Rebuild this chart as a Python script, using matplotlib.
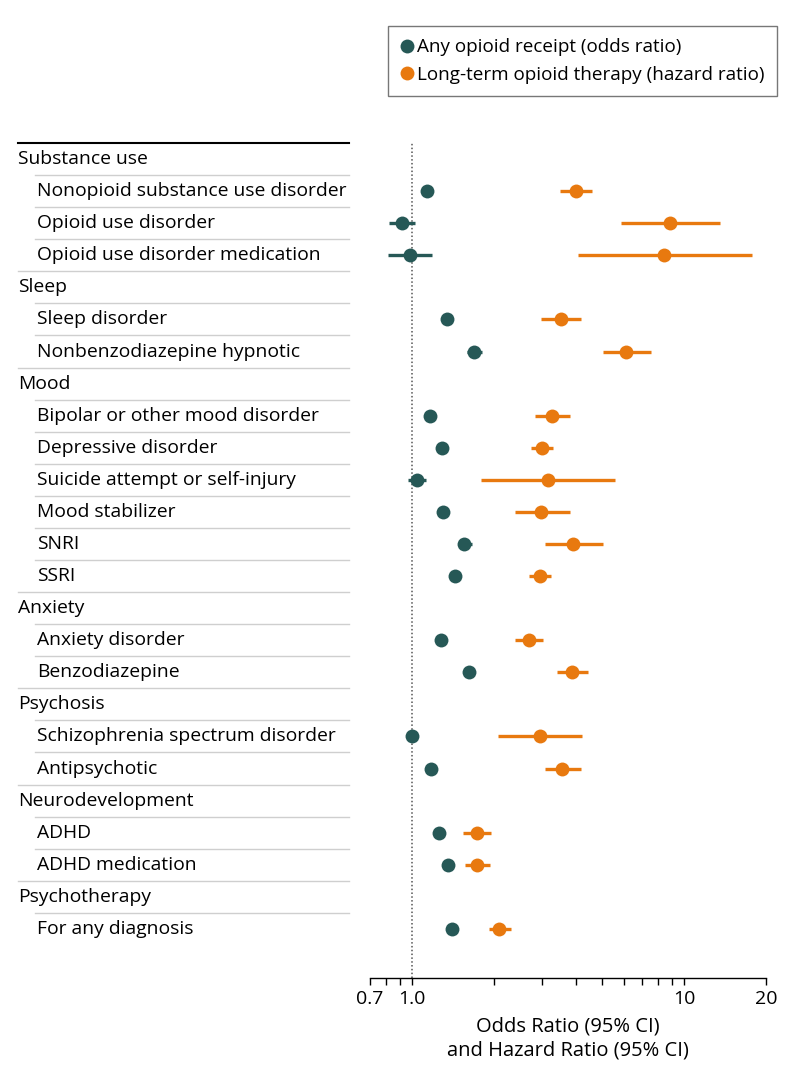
import numpy as np
import matplotlib
matplotlib.use("Agg")
import matplotlib.pyplot as plt
from matplotlib.lines import Line2D
from matplotlib.transforms import blended_transform_factory
from matplotlib.ticker import NullFormatter

plt.rcParams['font.family'] = ['Open Sans', 'DejaVu Sans']

labels = ["Substance use", "Nonopioid substance use disorder", "Opioid use disorder",
          "Opioid use disorder medication", "Sleep", "Sleep disorder",
          "Nonbenzodiazepine hypnotic", "Mood", "Bipolar or other mood disorder",
          "Depressive disorder", "Suicide attempt or self-injury", "Mood stabilizer",
          "SNRI", "SSRI", "Anxiety", "Anxiety disorder", "Benzodiazepine", "Psychosis",
          "Schizophrenia spectrum disorder", "Antipsychotic", "Neurodevelopment",
          "ADHD", "ADHD medication", "Psychotherapy", "For any diagnosis"]
is_header = [1, 0, 0, 0, 1, 0, 0, 1, 0, 0, 0, 0, 0, 0, 1, 0, 0, 1, 0, 0, 1, 0, 0, 1, 0]

nan = np.nan
# any opioid receipt, odds ratio
or_est = [nan, 1.135, 0.917, 0.983, nan, 1.348, 1.694, nan, 1.165, 1.286, 1.04, 1.297,
          1.557, 1.439, nan, 1.275, 1.625, nan, 0.997, 1.175, nan, 1.26, 1.353, nan, 1.407]
or_lo = [nan, 1.11, 0.823, 0.814, nan, 1.32, 1.597, nan, 1.14, 1.27, 0.964, 1.27,
         1.476, 1.42, nan, 1.26, 1.59, nan, 0.96, 1.15, nan, 1.24, 1.32, nan, 1.39]
or_hi = [nan, 1.16, 1.026, 1.188, nan, 1.37, 1.803, nan, 1.19, 1.30, 1.123, 1.32,
         1.662, 1.46, nan, 1.29, 1.66, nan, 1.03, 1.20, nan, 1.28, 1.38, nan, 1.43]
# long-term opioid therapy, hazard ratio
hr_est = [nan, 4.01, 8.89, 8.42, nan, 3.52, 6.12, nan, 3.26, 3.00, 3.15, 2.98,
          3.91, 2.94, nan, 2.69, 3.87, nan, 2.95, 3.57, nan, 1.73, 1.738, nan, 2.093]
hr_lo = [nan, 3.50, 5.86, 4.06, nan, 2.98, 5.02, nan, 2.82, 2.74, 1.79, 2.38,
         3.08, 2.68, nan, 2.39, 3.41, nan, 2.07, 3.08, nan, 1.544, 1.566, nan, 1.924]
hr_hi = [nan, 4.60, 13.5, 17.7, nan, 4.18, 7.54, nan, 3.81, 3.30, 5.57, 3.81,
         5.03, 3.23, nan, 3.03, 4.42, nan, 4.23, 4.17, nan, 1.947, 1.935, nan, 2.306]

teal = "#265856"
orange = "#E8790F"

W, H = 794, 1091
fig = plt.figure(figsize=(W / 100, H / 100), dpi=100)
ax = fig.add_axes([370 / W, 1 - 978 / H, 396 / W, (978 - 143) / H])

y = np.arange(len(labels))
ax.set_xscale("log")
ax.set_xlim(0.7, 20)
ax.set_ylim((978 - 160) / 32.04, -0.5)

ax.axvline(1.0, color="#555555", ls=(0, (1, 1.5)), lw=1.1, zorder=1)

for est, lo, hi, c in [(or_est, or_lo, or_hi, teal), (hr_est, hr_lo, hr_hi, orange)]:
    est, lo, hi = np.array(est), np.array(lo), np.array(hi)
    ax.hlines(y, lo, hi, color=c, lw=2.4, zorder=2)
    ax.plot(est, y, "o", color=c, ms=10, mec="none", zorder=3)

for s in ["top", "right", "left"]:
    ax.spines[s].set_visible(False)
ax.spines["bottom"].set_linewidth(1.0)
ax.set_yticks([])
ax.set_xticks([0.7, 1, 10, 20])
ax.set_xticklabels(["0.7", "1.0", "10", "20"])
ax.set_xticks([0.8, 0.9, 2, 3, 4, 5, 6, 7, 8, 9], minor=True)
ax.xaxis.set_minor_formatter(NullFormatter())
ax.tick_params(axis="x", which="both", length=5, width=1, labelsize=14, pad=4)
ax.set_xlabel("Odds Ratio (95% CI)\nand Hazard Ratio (95% CI)", fontsize=14.5, labelpad=6,
              linespacing=1.25)

# left-hand labels and separators
tr = blended_transform_factory(fig.transFigure, ax.transData)
for i, (lab, h) in enumerate(zip(labels, is_header)):
    ax.text(18 / W if h else 37 / W, i, lab, transform=tr, fontsize=13.9,
            va="center", ha="left", clip_on=False)
    if i < len(labels) - 1:
        x0 = 18 / W if is_header[i + 1] else 35 / W
        ax.add_line(Line2D([x0, 349 / W], [i + 0.5, i + 0.5], transform=tr,
                           color="#cfcfcf", lw=1.0, clip_on=False))
ax.add_line(Line2D([18 / W, 349 / W], [-0.5, -0.5], transform=tr,
                   color="black", lw=1.5, clip_on=False))

handles = [Line2D([], [], marker="o", ls="none", color=teal, ms=10, mec="none"),
           Line2D([], [], marker="o", ls="none", color=orange, ms=10, mec="none")]
leg = fig.legend(handles, ["Any opioid receipt (odds ratio)",
                           "Long-term opioid therapy (hazard ratio)"],
                 loc="upper right", bbox_to_anchor=(777 / W, 1 - 26 / H),
                 fontsize=13.6, frameon=True, fancybox=False, handlelength=0.7,
                 handletextpad=0.2, borderpad=0.65, labelspacing=0.5,
                 borderaxespad=0)
leg.get_frame().set_edgecolor("#555555")
leg.get_frame().set_linewidth(1.0)

fig.savefig("out.png", dpi=100)
